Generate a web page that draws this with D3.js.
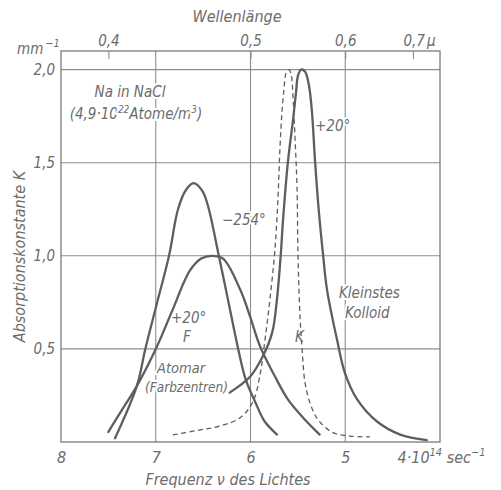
<!DOCTYPE html>
<html>
<head>
<meta charset="utf-8">
<script src="https://cdn.jsdelivr.net/npm/d3@7"></script>
<style>
  html, body { margin: 0; padding: 0; background: #fff; }
  svg { display: block; }
  text { font-family: "DejaVu Sans Condensed", "DejaVu Sans", sans-serif; font-style: italic; fill: #6c6c6c; }
</style>
</head>
<body>
<svg id="chart" width="501" height="490"></svg>
<script>
// Frequency axis in 10^14 s^-1, absorption constant K in mm^-1, wavelength in µ
const freqTicks = [8, 7, 6, 5, 4];
const freqGrid = [7, 6, 5];
const kTicks = [0.5, 1.0, 1.5, 2.0];
const waveTicks = [0.4, 0.5, 0.6, 0.7];

// F band (colour centres) at -254°: [frequency, K]
const fBandCold = [
  [7.43, 0.02], [7.20, 0.30], [7.11, 0.50], [6.99, 0.74], [6.86, 1.00],
  [6.765, 1.25], [6.68, 1.355], [6.60, 1.39], [6.51, 1.35], [6.45, 1.27],
  [6.33, 0.99], [6.24, 0.77], [6.13, 0.50], [6.05, 0.335], [5.95, 0.215],
  [5.85, 0.11], [5.72, 0.04]
];

// F band at +20°
const fBandWarm = [
  [7.50, 0.054], [7.36, 0.17], [7.20, 0.30], [6.99, 0.51], [6.83, 0.70],
  [6.64, 0.92], [6.52, 0.985], [6.41, 1.00], [6.29, 0.985], [6.11, 0.82],
  [6.005, 0.675], [5.90, 0.515], [5.74, 0.35], [5.60, 0.225], [5.425, 0.12],
  [5.27, 0.04]
];

// smallest colloid, +20°
const colloid = [
  [6.22, 0.265], [6.005, 0.35], [5.87, 0.46], [5.77, 0.59], [5.72, 0.77],
  [5.68, 1.01], [5.657, 1.19], [5.604, 1.51], [5.551, 1.73], [5.52, 1.875],
  [5.50, 1.965], [5.467, 2.00], [5.425, 1.99], [5.383, 1.915], [5.351, 1.77],
  [5.319, 1.51], [5.277, 1.23], [5.235, 1.01], [5.193, 0.82], [5.087, 0.55],
  [5.003, 0.37], [4.876, 0.23], [4.665, 0.11], [4.42, 0.04], [4.14, 0.01]
];

// K band (dashed)
const kBand = [
  [6.82, 0.038], [6.53, 0.065], [6.32, 0.086], [6.11, 0.13], [5.974, 0.216],
  [5.90, 0.36], [5.847, 0.55], [5.794, 0.77], [5.741, 1.04], [5.71, 1.31],
  [5.689, 1.58], [5.668, 1.77], [5.646, 1.90], [5.625, 1.98], [5.594, 2.00],
  [5.573, 1.98], [5.551, 1.85], [5.53, 1.63], [5.509, 1.37], [5.499, 1.01],
  [5.478, 0.68], [5.456, 0.50], [5.425, 0.32], [5.372, 0.21], [5.288, 0.12],
  [5.129, 0.05], [4.95, 0.032], [4.74, 0.027]
];

const svg = d3.select("#chart");
const plotLeft = 61, plotRight = 440, plotTop = 51, plotBottom = 442;
const kMax = 2.1;

const x = d3.scaleLinear().domain([8, 4]).range([plotLeft, plotRight]);
const y = d3.scaleLinear().domain([0, kMax]).range([plotBottom, plotTop]);
const lambdaToFreq = l => 3 / l;   // c = 3·10^14 µ/s

const gridColor = "#8c8c8c";
const curveColor = "#5e5e5e";

// grid
const grid = svg.append("g").attr("stroke", gridColor).attr("stroke-width", 1.1);
grid.selectAll("line.h").data(kTicks).join("line").attr("class", "h")
  .attr("x1", plotLeft).attr("x2", plotRight)
  .attr("y1", d => y(d)).attr("y2", d => y(d));
grid.selectAll("line.v").data(freqGrid).join("line").attr("class", "v")
  .attr("x1", d => x(d)).attr("x2", d => x(d))
  .attr("y1", plotTop).attr("y2", plotBottom);

// frame
svg.append("rect")
  .attr("x", plotLeft).attr("y", plotTop)
  .attr("width", plotRight - plotLeft).attr("height", plotBottom - plotTop)
  .attr("fill", "none").attr("stroke", "#7a7a7a").attr("stroke-width", 1.3);

// wavelength axis (top)
const fmt = d => String(d).replace(".", ",");
const topAxis = d3.axisTop(x)
  .tickValues(waveTicks.map(lambdaToFreq))
  .tickSizeInner(-8).tickSizeOuter(0).tickPadding(5)
  .tickFormat(f => fmt(+(3 / f).toFixed(1)));
const gTop = svg.append("g").attr("transform", `translate(0,${plotTop})`).call(topAxis);
gTop.attr("font-family", null).attr("font-size", null);
gTop.select(".domain").remove();
gTop.selectAll("line").attr("stroke", gridColor).attr("stroke-width", 1.1);
gTop.selectAll("text").attr("font-size", 15).attr("fill", null);
gTop.selectAll(".tick").filter(f => Math.abs(3 / f - 0.7) < 1e-6).select("text")
  .attr("text-anchor", "start").attr("x", -10)
  .call(t => t.append("tspan").attr("dx", 2).text("µ"));

// frequency axis (bottom)
const bottomAxis = d3.axisBottom(x)
  .tickValues(freqTicks).tickSize(0).tickPadding(10)
  .tickFormat(d => String(d));
const gBot = svg.append("g").attr("transform", `translate(0,${plotBottom})`).call(bottomAxis);
gBot.attr("font-family", null).attr("font-size", null);
gBot.select(".domain").remove();
gBot.selectAll("text").attr("font-size", 16).attr("fill", null);
gBot.selectAll(".tick").filter(d => d === 4).select("text")
  .attr("text-anchor", "start").attr("x", -43)
  .call(t => {
    t.append("tspan").text("·10");
    t.append("tspan").attr("font-size", 11).attr("dy", -7).text("14");
    t.append("tspan").attr("dy", 7).text(" sec");
    t.append("tspan").attr("font-size", 11).attr("dy", -7).text("−1");
  });

// K axis (left)
const leftAxis = d3.axisLeft(y)
  .tickValues(kTicks).tickSize(0).tickPadding(6)
  .tickFormat(d => d.toFixed(1).replace(".", ","));
const gLeft = svg.append("g").attr("transform", `translate(${plotLeft},0)`).call(leftAxis);
gLeft.attr("font-family", null).attr("font-size", null);
gLeft.select(".domain").remove();
gLeft.selectAll("text").attr("font-size", 15).attr("fill", null);

// unit at the top of the K axis
const unit = svg.append("text").attr("x", 17).attr("y", 54).attr("font-size", 15);
unit.append("tspan").text("mm");
unit.append("tspan").attr("font-size", 11).attr("dy", -7).attr("dx", 2).text("−1");

// axis titles
svg.append("text").attr("x", 237).attr("y", 22).attr("text-anchor", "middle")
  .attr("font-size", 16).text("Wellenlänge");
svg.append("text").attr("x", 228).attr("y", 485).attr("text-anchor", "middle")
  .attr("font-size", 16).text("Frequenz ν des Lichtes");
svg.append("text")
  .attr("transform", `translate(25,${(plotTop + plotBottom) / 2 + 10}) rotate(-90)`)
  .attr("text-anchor", "middle").attr("font-size", 16).text("Absorptionskonstante K");

// annotations inside the plot (white halo breaks the grid behind them)
const notes = svg.append("g")
  .attr("stroke", "#fff").attr("stroke-width", 4).attr("paint-order", "stroke")
  .attr("font-size", 15);
function note(px, py, txt, anchor, len) {
  const t = notes.append("text").attr("x", px).attr("y", py)
    .attr("text-anchor", anchor || "start").text(txt);
  if (len) t.attr("textLength", len).attr("lengthAdjust", "spacingAndGlyphs");
  return t;
}
note(130, 97, "Na in NaCl", "middle");
const conc = notes.append("text").attr("x", 136).attr("y", 119).attr("text-anchor", "middle");
conc.append("tspan").text("(4,9·10");
conc.append("tspan").attr("font-size", 10).attr("dy", -6).text("22");
conc.append("tspan").attr("dy", 6).text("Atome/m");
conc.append("tspan").attr("font-size", 10).attr("dy", -6).text("3");
conc.append("tspan").attr("dy", 6).text(")");
note(222, 225, "−254°");
note(315, 131, "+20°");
note(171, 323, "+20°");
note(183, 342, "F");
note(295, 342, "K");
note(339, 298, "Kleinstes");
note(345, 318, "Kolloid");
note(157, 373, "Atomar").attr("font-size", 14.5);
note(145, 392, "(Farbzentren)", "start", 83).attr("font-size", 14.5);

// absorption curves
const line = d3.line()
  .x(d => x(d[0])).y(d => y(d[1]))
  .curve(d3.curveCatmullRom.alpha(0.5));

const curves = svg.append("g").attr("fill", "none").attr("stroke", curveColor)
  .attr("stroke-linecap", "round").attr("stroke-linejoin", "round");
[fBandCold, fBandWarm, colloid].forEach(s =>
  curves.append("path").attr("d", line(s)).attr("stroke-width", 2.3));
curves.append("path").attr("d", line(kBand))
  .attr("stroke-width", 1.3).attr("stroke-dasharray", "5,3.5").attr("stroke-linecap", "butt");
</script>
</body>
</html>
